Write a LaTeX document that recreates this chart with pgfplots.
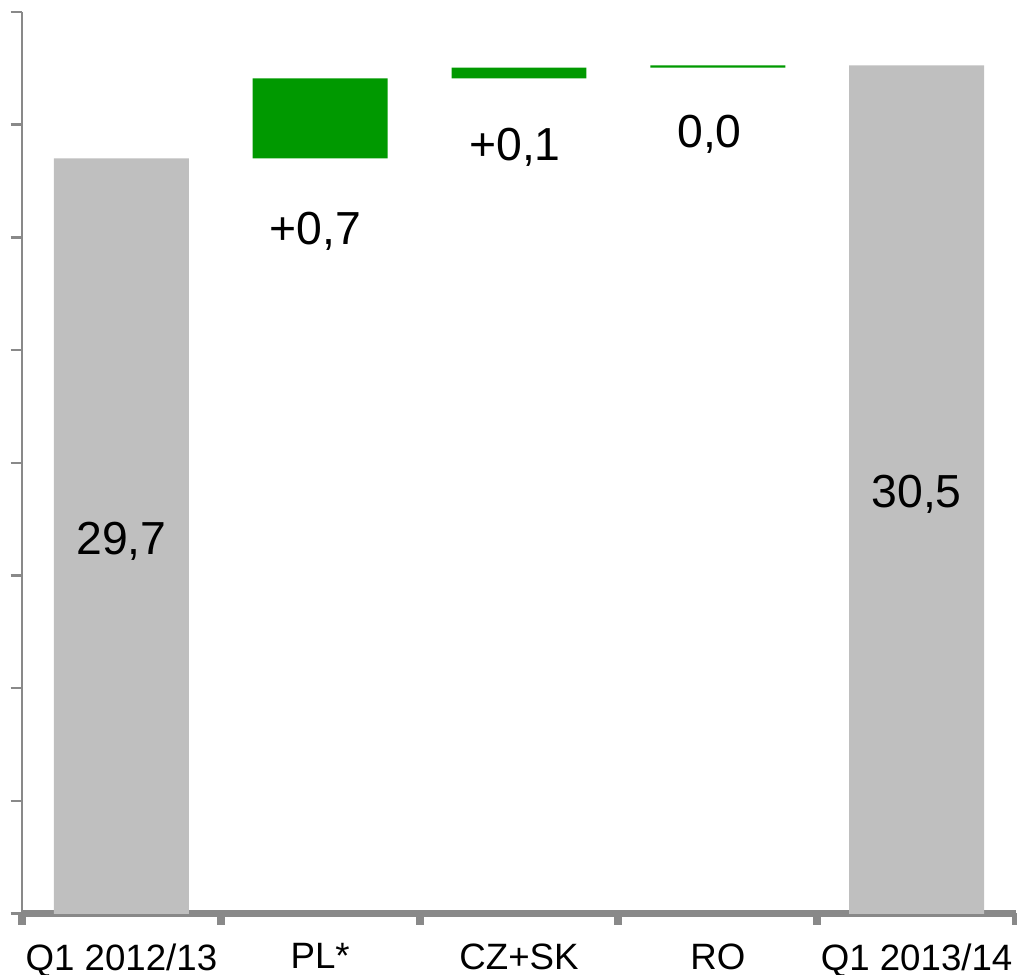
\documentclass[border=0pt]{standalone}
\usepackage{fontspec}
\setmainfont{Liberation Sans}
\usepackage{pgfplots}
\usepackage{pgfplotstable}
\pgfplotsset{compat=1.18}
\definecolor{axisgray}{RGB}{137,137,137}
\definecolor{bargray}{RGB}{191,191,191}
\definecolor{bargreen}{RGB}{0,153,0}
\pgfplotstableread{
x base total inc
0 0 29.7 0
1 29.7 0 0.71
2 30.41 0 0.095
3 30.505 0 0.02
4 0 30.525 0
}\data
\begin{document}
\begin{tikzpicture}
\begin{axis}[
  scale only axis,
  width=298.2pt, height=270.45pt,
  xmin=-0.5, xmax=4.5,
  ymin=23, ymax=31,
  axis lines=left,
  x axis line style={-, line width=2.1pt, color=axisgray},
  y axis line style={-, line width=0.7pt, color=axisgray},
  tick align=outside,
  ytick={23,24,...,31},
  yticklabels={},
  ytick style={line width=0.7pt, color=axisgray},
  major tick length=3.4pt,
  xtick={-0.5,0.5,1.5,2.5,3.5,4.5},
  xticklabels={},
  xtick style={line width=2.4pt, color=axisgray},
  extra x ticks={0,1,2,3,4},
  extra x tick labels={Q1 2012/13,PL*,CZ+SK,RO,Q1 2013/14},
  extra x tick style={major tick length=0pt},
  xticklabel style={font=\fontsize{11pt}{13pt}\selectfont, text=black, inner sep=0pt, yshift=-8.8pt},
  ybar stacked,
  bar width=0.679,
  clip=true,
]
\addplot[draw=none, fill=none] table[x=x, y=base] {\data};
\addplot[draw=none, fill=bargray] table[x=x, y=total] {\data};
\addplot[draw=none, fill=bargreen] table[x=x, y=inc] {\data};
\coordinate (l1) at (axis cs:0,26.19);
\coordinate (l2) at (axis cs:4,26.607);
\coordinate (l3) at (axis cs:0.975,28.941);
\coordinate (l4) at (axis cs:1.98,29.686);
\coordinate (l5) at (axis cs:2.958,29.802);
\end{axis}
\begin{scope}[every node/.style={anchor=base, font=\fontsize{13.9pt}{16pt}\selectfont}]
\node at (l1) {29,7};
\node at (l2) {30,5};
\node at (l3) {+0,7};
\node at (l4) {+0,1};
\node at (l5) {0,0};
\end{scope}
\pgfresetboundingbox
\path ([shift={(-6.6pt,-18.15pt)}]current axis.south west) rectangle ([shift={(0.3pt,3.6pt)}]current axis.north east);
\end{tikzpicture}
\end{document}
